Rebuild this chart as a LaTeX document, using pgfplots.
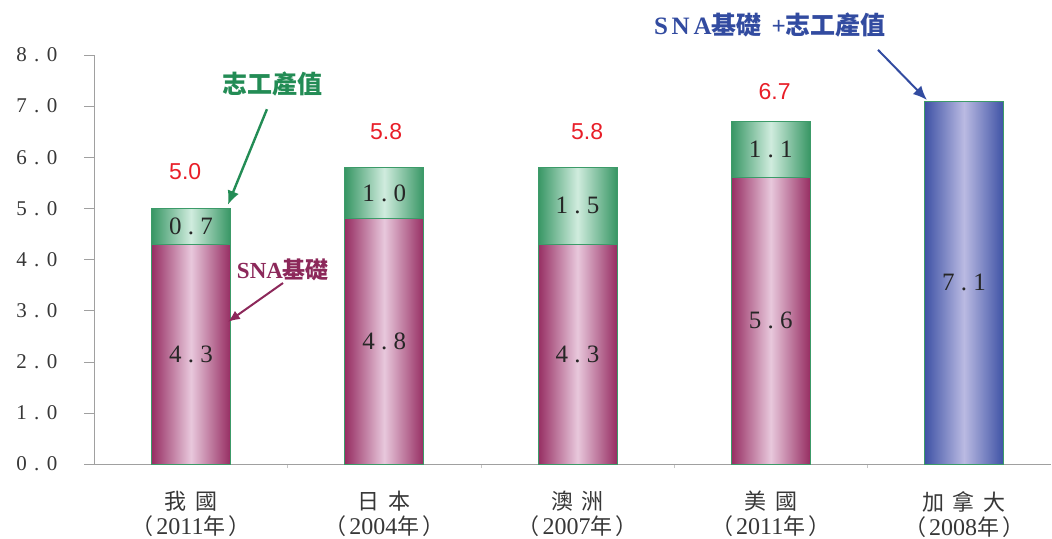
\documentclass[border=0pt]{standalone}
\usepackage{fontspec}
\usepackage{pgfplots}
\pgfplotsset{compat=1.18}
\usetikzlibrary{arrows.meta}
\setmainfont{Liberation Serif}
\newfontfamily\cjk{Noto Sans CJK TC}
\newfontfamily\cjkla[LetterSpace=40]{Noto Sans CJK TC}
\newfontfamily\tickf[LetterSpace=35]{Liberation Serif}
\newfontfamily\barf[LetterSpace=25]{Liberation Serif}
\newfontfamily\redf{Liberation Sans}
\newcommand{\yr}[1]{{\cjk （}\hspace{1.5pt}{\rmfamily\fontsize{12}{12}\selectfont #1}{\cjk 年}\hspace{1.5pt}{\cjk ）}}
\definecolor{pedge}{RGB}{150,45,98}
\definecolor{pmid}{RGB}{232,200,220}
\definecolor{gedge}{RGB}{55,150,100}
\definecolor{gmid}{RGB}{208,236,222}
\definecolor{gbord}{RGB}{60,155,105}
\definecolor{bedge}{RGB}{62,82,165}
\definecolor{bmid}{RGB}{186,186,226}
\definecolor{axgray}{RGB}{160,160,160}
\definecolor{txtgray}{RGB}{55,55,55}
\definecolor{redlab}{RGB}{232,30,40}
\definecolor{annG}{RGB}{35,140,85}
\definecolor{annP}{RGB}{140,40,90}
\definecolor{annB}{RGB}{50,75,160}
\pgfplotsset{
  greenbar/.style={ybar, bar width=39.5pt, bar shift=0pt, draw=gbord, left color=gedge, right color=gedge, middle color=gmid},
  pinkbar/.style={ybar, bar width=39.5pt, bar shift=0pt, draw=gbord, line width=0.4pt, left color=pedge, right color=pedge, middle color=pmid},
  bluebar/.style={ybar, bar width=39.5pt, bar shift=0pt, draw=gbord, left color=bedge, right color=bedge, middle color=bmid},
}
\begin{document}
\begin{tikzpicture}
\begin{axis}[
  x=96.625pt, y=25.5625pt,
  anchor=origin, at={(95.5pt,37pt)},
  xmin=-0.5, xmax=4.45, ymin=0, ymax=8,
  axis x line=bottom, axis y line=left,
  axis line style={axgray, -},
  ytick={0,1,...,8},
  yticklabels={0.0,1.0,2.0,3.0,4.0,5.0,6.0,7.0,8.0},
  yticklabel style={font=\tickf\fontsize{10.5}{11}\selectfont, text=txtgray, xshift=-10pt},
  ytick style={axgray},
  tick align=outside,
  major tick length=5pt,
  xtick={0,1,2,3,4},
  xticklabels={{\cjkla 我國\\\yr{2011}},{\cjkla 日本\\\yr{2004}},{\cjkla 澳洲\\\yr{2007}},{\cjkla 美國\\\yr{2011}},{\cjkla 加拿大\\\yr{2008}}},
  xticklabel style={align=center, font=\fontsize{11}{12.5}\selectfont, text=txtgray, yshift=-5pt},
  x tick style={draw=none},
  minor xtick={0.5,1.5,2.5,3.5},
  minor x tick style={draw=axgray!60},
  minor tick length=2pt,
  clip=false,
]
\addplot[greenbar] coordinates {(0,5.0)};
\addplot[greenbar] coordinates {(1,5.8)};
\addplot[greenbar] coordinates {(2,5.8)};
\addplot[greenbar] coordinates {(3,6.7)};
\addplot[pinkbar] coordinates {(0,4.3)};
\addplot[pinkbar] coordinates {(1,4.8)};
\addplot[pinkbar] coordinates {(2,4.3)};
\addplot[pinkbar] coordinates {(3,5.6)};
\addplot[bluebar] coordinates {(4,7.1)};
% value labels inside segments
\addplot[draw=none, mark=none, nodes near coords, point meta=explicit symbolic,
  nodes near coords style={anchor=center, font=\barf\fontsize{12.5}{13}\selectfont, text=black!85}]
  coordinates {(0,2.15)[4.3] (1,2.4)[4.8] (2,2.15)[4.3] (3,2.8)[5.6]
               (0,4.65)[0.7] (1,5.3)[1.0] (2,5.05)[1.5] (3,6.15)[1.1] (4,3.55)[7.1]};
% totals
\addplot[draw=none, mark=none, nodes near coords, point meta=explicit symbolic,
  nodes near coords style={anchor=center, font=\redf\fontsize{11.5}{12}\selectfont, text=redlab}]
  coordinates {(-0.03,5.71)[5.0] (1.01,6.5)[5.8] (2.05,6.5)[5.8] (3.02,7.28)[6.7]};
% annotations
\node[font=\cjk\bfseries\fontsize{12.5}{13}\selectfont, text=annG] at (axis cs:0.424,7.43) {志工產值};
\draw[annG, line width=1.2pt, -{Latex[length=7pt,width=6pt]}] (axis cs:0.393,6.94) -- (axis cs:0.191,5.07);
\node[font=\bfseries\fontsize{11.5}{12}\selectfont, text=annP] at (axis cs:0.476,3.79) {SNA{\cjk 基礎}};
\draw[annP, line width=1pt, -{Latex[length=6pt,width=5pt]}] (axis cs:0.476,3.54) -- (axis cs:0.191,2.78);
\node[font=\bfseries\fontsize{12.5}{13}\selectfont, text=annB] at (axis cs:2.996,8.59) {\addfontfeature{LetterSpace=15}SNA{\cjk 基礎} +{\cjk 志工產值}};
\draw[annB, line width=1pt, -{Latex[length=7pt,width=6pt]}] (axis cs:3.555,8.10) -- (axis cs:3.808,7.12);
\end{axis}
\pgfresetboundingbox
\path[use as bounding box] (0,0) rectangle (526pt,269pt);
\end{tikzpicture}
\end{document}
